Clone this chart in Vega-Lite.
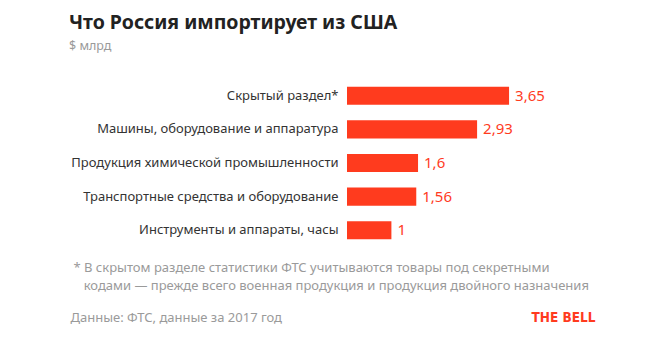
{
  "$schema": "https://vega.github.io/schema/vega-lite/v6.json",
  "width": 222,
  "height": 168,
  "autosize": {"type": "none"},
  "padding": {"left": 347, "top": 79, "right": 96, "bottom": 113},
  "background": "white",
  "title": {
    "text": "Что Россия импортирует из США",
    "subtitle": "$ млрд",
    "anchor": "start",
    "frame": "group",
    "dx": -278,
    "offset": 26,
    "font": "Noto Sans",
    "fontSize": 19.5,
    "fontWeight": "bold",
    "color": "#222222",
    "subtitleFont": "Noto Sans",
    "subtitleFontSize": 12.5,
    "subtitleColor": "#9a9a9a",
    "subtitlePadding": 6
  },
  "data": {
    "values": [
      {"category": "Скрытый раздел*", "value": 3.65},
      {"category": "Машины, оборудование и аппаратура", "value": 2.93},
      {"category": "Продукция химической промышленности", "value": 1.6},
      {"category": "Транспортные средства и оборудование", "value": 1.56},
      {"category": "Инструменты и аппараты, часы", "value": 1}
    ]
  },
  "encoding": {
    "y": {
      "field": "category",
      "type": "nominal",
      "sort": null,
      "scale": {"paddingInner": 0.46, "paddingOuter": 0.23},
      "axis": {
        "domain": false,
        "ticks": false,
        "labelPadding": 9,
        "labelFont": "Noto Sans",
        "labelFontSize": 13,
        "labelColor": "#333333",
        "labelLimit": 400,
        "title": "Данные: ФТС, данные за 2017 год",
        "titleAngle": 0,
        "titleAnchor": "start",
        "titleAlign": "left",
        "titleBaseline": "alphabetic",
        "titleX": -277,
        "titleY": 242,
        "titleFont": "Noto Sans",
        "titleFontSize": 13,
        "titleFontWeight": "normal",
        "titleColor": "#9a9a9a"
      }
    },
    "x": {
      "field": "value",
      "type": "quantitative",
      "scale": {"domain": [0, 5], "nice": false},
      "axis": {
        "grid": false,
        "domain": false,
        "ticks": false,
        "labels": false,
        "title": [
          "* В скрытом разделе статистики ФТС учитываются товары под секретными",
          "\u200b\u00a0\u00a0\u00a0кодами — прежде всего военная продукция и продукция двойного назначения"
        ],
        "titleAnchor": "start",
        "titleAlign": "left",
        "titleBaseline": "alphabetic",
        "titleX": -274,
        "titleY": 24,
        "titleLineHeight": 18,
        "titleFont": "Noto Sans",
        "titleFontSize": 13,
        "titleFontWeight": "normal",
        "titleColor": "#9a9a9a"
      }
    }
  },
  "layer": [
    {
      "mark": {"type": "bar", "color": "#FF3B1E"}
    },
    {
      "mark": {
        "type": "text",
        "align": "left",
        "baseline": "middle",
        "dx": 6,
        "font": "Noto Sans",
        "fontSize": 15,
        "color": "#FF3B1E"
      },
      "encoding": {
        "text": {"field": "value", "type": "quantitative", "format": "~g"},
        "x": {
          "field": "value",
          "type": "quantitative",
          "axis": {
            "orient": "top",
            "grid": false,
            "domain": false,
            "ticks": false,
            "labels": false,
            "title": "THE BELL",
            "titleAnchor": "start",
            "titleAlign": "right",
            "titleBaseline": "alphabetic",
            "titleX": 248,
            "titleY": 242,
            "titleFont": "DejaVu Sans Condensed",
            "titleFontSize": 13.5,
            "titleFontWeight": "bold",
            "titleColor": "#FF3B1E"
          }
        }
      }
    }
  ],
  "resolve": {"axis": {"x": "independent"}},
  "config": {
    "view": {"stroke": null},
    "locale": {
      "number": {"decimal": ",", "thousands": " ", "grouping": [3], "currency": ["", " $"]}
    }
  }
}
